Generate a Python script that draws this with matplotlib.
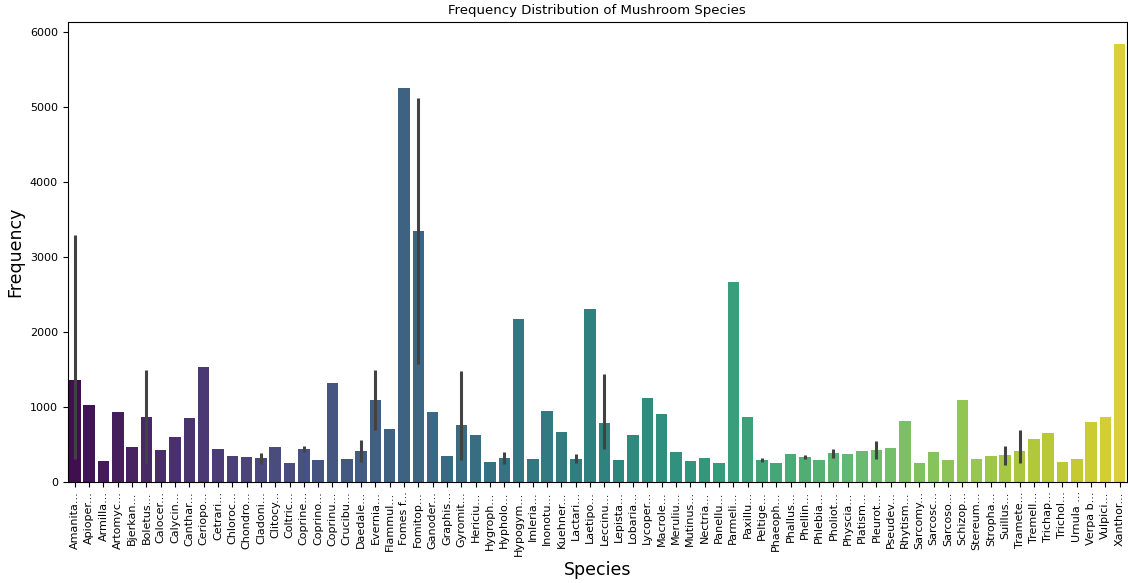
import matplotlib
matplotlib.use("Agg")
import matplotlib.pyplot as plt
import seaborn as sns
import numpy as np

species = ["Amanita...", "Apioper...", "Armilla...", "Artomyc...", "Bjerkan...", "Boletus...",
           "Calocer...", "Calycin...", "Canthar...", "Ceriopo...", "Cetrari...", "Chloroc...",
           "Chondro...", "Cladoni...", "Clitocy...", "Coltric...", "Coprine...", "Coprino...",
           "Coprinu...", "Crucibu...", "Daedale...", "Evernia...", "Flammul...", "Fomes f...",
           "Fomitop...", "Ganoder...", "Graphis...", "Gyromit...", "Hericiu...", "Hygroph...",
           "Hypholo...", "Hypogym...", "Imleria...", "Inonotu...", "Kuehner...", "Lactari...",
           "Laetipo...", "Leccinu...", "Lepista...", "Lobaria...", "Lycoper...", "Macrole...",
           "Meruliu...", "Mutinus...", "Nectria...", "Panellu...", "Parmeli...", "Paxillu...",
           "Peltige...", "Phaeoph...", "Phallus...", "Phellin...", "Phlebia...", "Pholiot...",
           "Physcia...", "Platism...", "Pleurot...", "Pseudev...", "Rhytism...", "Sarcomy...",
           "Sarcosc...", "Sarcoso...", "Schizop...", "Stereum...", "Stropha...", "Suillus...",
           "Tramete...", "Tremell...", "Trichap...", "Trichol...", "Urnula ...", "Verpa b...",
           "Vulpici...", "Xanthor..."]

freq = [1360, 1027, 280, 933, 467, 867,
        427, 600, 853, 1533, 440, 347,
        333, 320, 467, 253, 440, 293,
        1320, 307, 413, 1093, 707, 5257,
        3347, 933, 347, 760, 627, 267,
        320, 2173, 307, 947, 667, 307,
        2307, 787, 293, 627, 1120, 907,
        400, 280, 320, 253, 2667, 867,
        293, 253, 373, 333, 293, 387,
        373, 413, 427, 453, 813, 253,
        400, 293, 1093, 307, 347, 360,
        413, 573, 653, 267, 307, 800,
        867, 5840]

# confidence intervals for the grouped labels (nan = single entry)
nan = np.nan
ci_low = [303, nan, nan, nan, nan, 235,
          nan, nan, nan, nan, nan, nan,
          nan, 235, nan, nan, 400, nan,
          nan, nan, 258, 693, nan, nan,
          1573, nan, nan, 293, nan, nan,
          240, nan, nan, nan, nan, 249,
          nan, 436, nan, nan, nan, nan,
          nan, nan, nan, nan, nan, nan,
          258, nan, nan, 307, nan, 320,
          nan, nan, 307, nan, nan, nan,
          nan, nan, nan, nan, nan, 227,
          249, nan, nan, nan, nan, nan,
          nan, nan]
ci_high = [3293, nan, nan, nan, nan, 1484,
           nan, nan, nan, nan, nan, nan,
           nan, 382, nan, nan, 480, nan,
           nan, nan, 560, 1489, nan, nan,
           5115, nan, nan, 1476, nan, nan,
           391, nan, nan, nan, nan, 364,
           nan, 1431, nan, nan, nan, nan,
           nan, nan, nan, nan, nan, nan,
           316, nan, nan, 360, nan, 436,
           nan, nan, 538, nan, nan, nan,
           nan, nan, nan, nan, nan, 480,
           693, nan, nan, nan, nan, nan,
           nan, nan]

fig, ax = plt.subplots(figsize=(11.28, 5.83), dpi=100)
sns.barplot(x=species, y=freq, hue=species, palette="viridis", legend=False, ax=ax)

xs = np.arange(len(species))
ax.vlines(xs, ci_low, ci_high, color=".26", linewidth=2.2, zorder=3)
ax.set_xlim(-0.5, len(species) - 0.5)

ax.set_title("Frequency Distribution of Mushroom Species", fontsize=9.5)
ax.set_xlabel("Species", fontsize=12.5)
ax.set_ylabel("Frequency", fontsize=12.5)
ax.tick_params(axis="x", labelrotation=90, labelsize=8)
ax.tick_params(axis="y", labelsize=8)

plt.subplots_adjust(left=0.06, right=0.999, top=0.962, bottom=0.174)
plt.savefig("out.png", dpi=100)
